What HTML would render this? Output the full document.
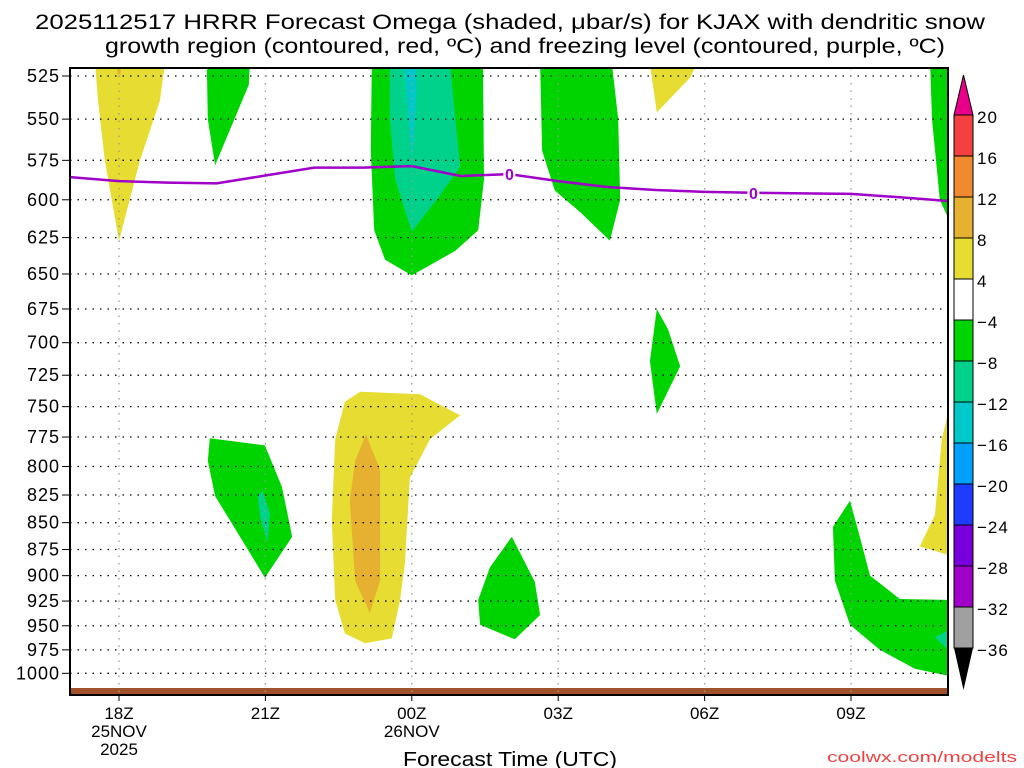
<!DOCTYPE html>
<html><head><meta charset="utf-8"><style>
body{margin:0;background:#fff}
svg{display:block;font-family:"Liberation Sans",sans-serif}
</style></head><body>
<svg id="chart" width="1024" height="768" viewBox="0 0 1024 768">
<text x="35" y="29" font-size="21" textLength="950" lengthAdjust="spacingAndGlyphs">2025112517 HRRR Forecast Omega (shaded, μbar/s) for KJAX with dendritic snow</text>
<text x="105" y="53" font-size="21" textLength="840" lengthAdjust="spacingAndGlyphs">growth region (contoured, red, ºC) and freezing level (contoured, purple, ºC)</text>
<g id="plot"></g>
<g id="cbar"></g>
<text x="403" y="766" font-size="20" textLength="214" lengthAdjust="spacingAndGlyphs">Forecast Time (UTC)</text>
<text x="827" y="762" font-size="15" fill="#f04040" textLength="190" lengthAdjust="spacingAndGlyphs">coolwx.com/modelts</text>
</svg>
<script>
const hourTicks=[0,3,6,9,12,15];
const hourLabels=["18Z","21Z","00Z","03Z","06Z","09Z"];
const dateLabels=["25NOV","","26NOV","","",""];
const yearLabels=["2025","","","","",""];
const pLevels=[525,550,575,600,625,650,675,700,725,750,775,800,825,850,875,900,925,950,975,1000];
const freezeHours=[-1,0,1,2,3,4,5,6,7,8,9,10,11,12,13,14,15,16,17];
const freezeP=[585.5,588,589,589.5,584.5,579.5,579.5,578.6,584.8,583.6,588,591.8,593.7,594.9,595.5,595.9,596.2,598.4,600.8];
const freezeLabelHours=[8,13];
const cbLevels=["20","16","12","8","4","−4","−8","−12","−16","−20","−24","−28","−32","−36"];
const cbColors=["#f44040","#f08a30","#e6b030","#e6dc32","#ffffff","#00d400","#00d28c","#00c8c8","#00a0ff","#1e3cff","#7800dc","#a000c8","#a0a0a0"];
// shaded regions: [color, [hour, pressure] ...]
const regions=[
["#e6dc32",[[-0.49,518],[0.94,518],[0.84,539],[0.43,575],[0,627],[-0.29,575],[-0.43,539]]],
["#e6b030",[[-0.05,518],[0.05,518],[0.03,524],[-0.03,524]]],
["#00d400",[[1.8,518],[2.68,518],[2.66,530],[1.97,578],[1.82,550]]],
["#00d400",[[5.18,518],[7.46,518],[7.48,587],[7.36,620],[6.89,634],[6.0,651],[5.45,640],[5.23,620],[5.16,569]]],
["#00d28c",[[5.55,518],[6.78,518],[6.99,579],[6.58,597],[6.0,621],[5.66,587],[5.55,550]]],
["#00c8c8",[[5.84,518],[6.1,518],[6.09,539],[6.0,575],[5.92,545]]],
["#00d400",[[8.63,518],[10.1,518],[10.23,550],[10.27,600],[10.06,627],[9.45,608],[8.93,594],[8.67,569]]],
["#e6dc32",[[10.88,518],[11.84,518],[11.7,526],[11.02,546]]],
["#00d400",[[16.62,518],[17.2,518],[17.2,627],[16.82,600],[16.66,550]]],
["#00d400",[[11.02,675],[11.25,690],[11.5,718],[11.02,756],[10.88,714]]],
["#e6dc32",[[4.94,738],[6.17,740],[6.99,757],[6.37,777],[5.96,810],[5.86,887],[5.76,924],[5.59,963],[5.04,968],[4.63,958],[4.43,924],[4.36,848],[4.43,777],[4.63,746]]],
["#e6b030",[[5.06,773],[5.35,803],[5.35,905],[5.14,937],[4.84,905],[4.73,830],[4.84,795]]],
["#00d400",[[1.86,776],[2.99,782],[3.34,818],[3.55,863],[2.99,902],[2.48,863],[1.97,826],[1.82,795]]],
["#00d28c",[[2.93,821],[3.09,841],[3.05,868],[2.89,845],[2.85,826]]],
["#00d400",[[8.05,863],[8.52,906],[8.63,939],[8.11,964],[7.4,949],[7.36,924],[7.6,892]]],
["#00d400",[[14.98,830],[15.18,863],[15.39,900],[16.0,923],[17.2,924],[17.2,1005],[16.31,995],[15.59,975],[14.98,949],[14.67,905],[14.63,854]]],
["#00d28c",[[17.2,949],[17.2,985],[16.72,962]]],
["#e6dc32",[[17.2,719],[17.2,883],[16.41,872],[16.72,843],[16.86,777]]]
];
const NS="http://www.w3.org/2000/svg";
const X0=70,X1=948,Y0=68,Y1=695;
function xh(h){return 119+48.8*h;}
function yp(p){return 76+927*Math.log(p/525);}
function mk(tag,attrs,parent){const e=document.createElementNS(NS,tag);for(const k in attrs)e.setAttribute(k,attrs[k]);parent.appendChild(e);return e;}
const plot=document.getElementById('plot');
const defs=mk('defs',{},plot);
const cp=mk('clipPath',{id:'pc'},defs);
mk('rect',{x:X0,y:Y0,width:X1-X0,height:Y1-Y0},cp);
const sh=mk('g',{'clip-path':'url(#pc)'},plot);


regions.forEach((r,i)=>{
  const pg=mk('polygon',{points:r[1].map(v=>xh(v[0]).toFixed(1)+','+yp(v[1]).toFixed(1)).join(' '),fill:r[0]},sh);
  
  
});
const gb=mk('rect',{x:X0,y:688,width:X1-X0,height:7,fill:'#a0522d'},plot);


const grid=mk('g',{},plot);


pLevels.forEach(p=>{
  const y=yp(p);
  mk('line',{x1:X0,x2:X1,y1:y,y2:y,stroke:'#000','stroke-width':1.3,'stroke-dasharray':'1.5 6'},grid);
  mk('line',{x1:62,x2:X0,y1:y,y2:y,stroke:'#000','stroke-width':1},grid);
  const t=mk('text',{x:60,y:y+6,'text-anchor':'end','font-size':18,'letter-spacing':1},grid);
  t.textContent=p;
  
  
});
hourTicks.forEach((h,i)=>{
  const x=xh(h);
  mk('line',{x1:x,x2:x,y1:Y0,y2:Y1,stroke:'#999','stroke-width':1.3,'stroke-dasharray':'1.5 6'},grid);
  mk('line',{x1:x,x2:x,y1:Y1,y2:Y1+6,stroke:'#000','stroke-width':1},grid);
  [[hourLabels[i],719],[dateLabels[i],737],[yearLabels[i],755]].forEach(a=>{
    if(!a[0])return;
    const t=mk('text',{x:x,y:a[1],'text-anchor':'middle','font-size':17},grid);
    t.textContent=a[0];
    
    
  });
});
const fl=mk('polyline',{points:freezeHours.map((h,i)=>xh(h).toFixed(1)+','+yp(freezeP[i]).toFixed(1)).join(' '),fill:'none',stroke:'#a000c8','stroke-width':2.5,'clip-path':'url(#pc)'},plot);


freezeLabelHours.forEach(h=>{
  const i=freezeHours.indexOf(h);
  const x=xh(h),y=yp(freezeP[i]);
  mk('rect',{x:x-6,y:y-8,width:12,height:16,fill:'#fff'},plot);
  const t=mk('text',{x:x,y:y+6,'text-anchor':'middle','font-size':16,'font-weight':'bold',fill:'#a000c8'},plot);
  t.textContent='0';
  
  
});
const fr=mk('rect',{x:X0,y:Y0,width:X1-X0,height:Y1-Y0,fill:'none',stroke:'#000','stroke-width':2},plot);


const cb=document.getElementById('cbar');


const CX=954,CW=19,CT=115,CH=41;
mk('polygon',{points:`${CX},${CT} ${CX+CW},${CT} ${CX+CW/2},75`,fill:'#e8008a',stroke:'#000','stroke-width':1},cb);
cbColors.forEach((c,i)=>{mk('rect',{x:CX,y:CT+i*CH,width:CW,height:CH,fill:c,stroke:'#000','stroke-width':1},cb);});
const cbB=CT+cbColors.length*CH;
mk('polygon',{points:`${CX},${cbB} ${CX+CW},${cbB} ${CX+CW/2},${cbB+42}`,fill:'#000'},cb);
cbLevels.forEach((l,i)=>{
  const t=mk('text',{x:CX+CW+4,y:CT+i*CH+8,'font-size':17,'letter-spacing':1},cb);
  t.textContent=l;
  
  
});
</script>
</body></html>
